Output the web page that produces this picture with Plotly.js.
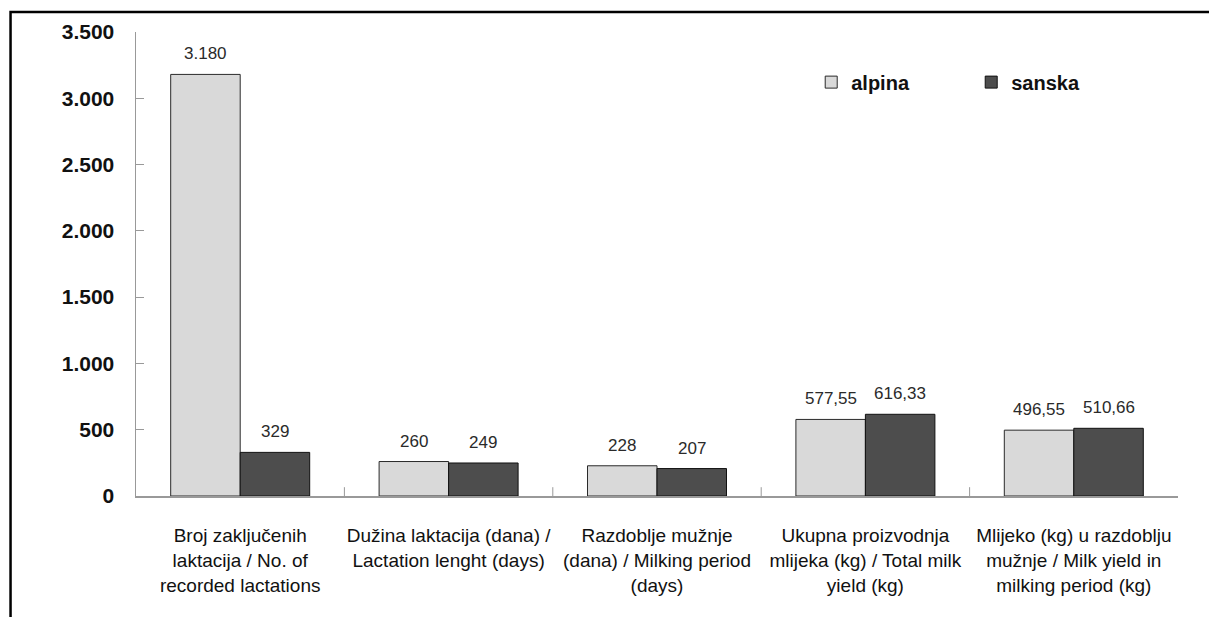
<!DOCTYPE html>
<html>
<head>
<meta charset="utf-8">
<script src="https://cdn.plot.ly/plotly-3.0.1.min.js"></script>
<style>html,body{margin:0;padding:0;background:#fff;}#chart{width:1209px;height:617px;}</style>
</head>
<body>
<div id="chart"></div>
<script>
const categories = [
  "Broj zaključenih<br>laktacija / No. of<br>recorded lactations",
  "Dužina laktacija (dana) /<br>Lactation lenght (days)",
  "Razdoblje mužnje<br>(dana) / Milking period<br>(days)",
  "Ukupna proizvodnja<br>mlijeka (kg) / Total milk<br>yield (kg)",
  "Mlijeko (kg) u razdoblju<br>mužnje / Milk yield in<br>milking period (kg)"
];
const alpina = [3180, 260, 228, 577.55, 496.55];
const sanska = [329, 249, 207, 616.33, 510.66];
const decimals = [0, 0, 0, 2, 2];
const seriesNames = ["alpina", "sanska"];

function fmt(v, d) {
  const parts = v.toFixed(d).split(".");
  parts[0] = parts[0].replace(/\B(?=(\d{3})+(?!\d))/g, ".");
  return parts.join(",");
}

const BAR_OFF = 0.1667;
const annotations = [];
[alpina, sanska].forEach((vals, si) => {
  vals.forEach((v, i) => {
    annotations.push({
      x: i + (si === 0 ? -BAR_OFF : BAR_OFF), y: v, xref: 'x', yref: 'y',
      text: fmt(v, decimals[i]), showarrow: false, yanchor: 'bottom', yshift: 9,
      font: {family: 'Liberation Sans Narrow, Arial Narrow, Liberation Sans, Arial', size: 17, color: '#2a2a2a'}
    });
  });
});

const traces = [
  {type: 'bar', name: seriesNames[0], x: [0,1,2,3,4], y: alpina,
   marker: {color: '#d9d9d9', line: {color: '#2a2a2a', width: 1}}, hoverinfo: 'none'},
  {type: 'bar', name: seriesNames[1], x: [0,1,2,3,4], y: sanska,
   marker: {color: '#4d4d4d', line: {color: '#111', width: 1}}, hoverinfo: 'none'}
];

const layout = {
  width: 1209, height: 617,
  margin: {l: 136, r: 31, t: 32, b: 121},
  paper_bgcolor: '#fff', plot_bgcolor: '#fff',
  separators: ',.',
  barmode: 'group', bargap: 0.333, bargroupgap: 0,
  font: {family: 'Liberation Sans, Arial, sans-serif', color: '#000'},
  showlegend: true,
  legend: {orientation: 'h', x: 0.648, xanchor: 'left', y: 0.892, yanchor: 'middle',
           entrywidth: 115, entrywidthmode: 'pixels',
           font: {size: 20, weight: 'bold', color: '#111'}, bgcolor: 'rgba(0,0,0,0)'},
  xaxis: {
    type: 'linear', range: [-0.5, 4.5], tickmode: 'array', tickvals: [0,1,2,3,4], ticktext: categories,
    showline: true, linecolor: '#999', linewidth: 1.5, showgrid: false, zeroline: false,
    ticks: '', ticklabelstandoff: 22,
    tickfont: {size: 19, color: '#111'}
  },
  yaxis: {
    range: [0, 3500], dtick: 500, tick0: 0, tickformat: ',.0f',
    showline: true, linecolor: '#999', linewidth: 1.5, showgrid: false, zeroline: false,
    ticks: 'inside', ticklen: 8, tickcolor: '#999', ticklabelstandoff: 16,
    tickfont: {size: 21, weight: 'bold', color: '#111'}
  },
  annotations: annotations,
  shapes: [
    // frame (left and top)
    {type: 'path', xref: 'paper', yref: 'paper',
     path: 'M -0.1204 -0.28 L -0.1204 1.0431 L 1.04 1.0431',
     line: {color: '#000', width: 2.5}},
    // category boundary ticks on x axis
    ...[0.5, 1.5, 2.5, 3.5].map(b => ({type: 'line', xref: 'x', yref: 'paper', x0: b, x1: b, y0: 0, y1: 0.019,
      line: {color: '#999', width: 1}}))
  ]
};

Plotly.newPlot('chart', traces, layout, {staticPlot: true});
</script>
</body>
</html>
